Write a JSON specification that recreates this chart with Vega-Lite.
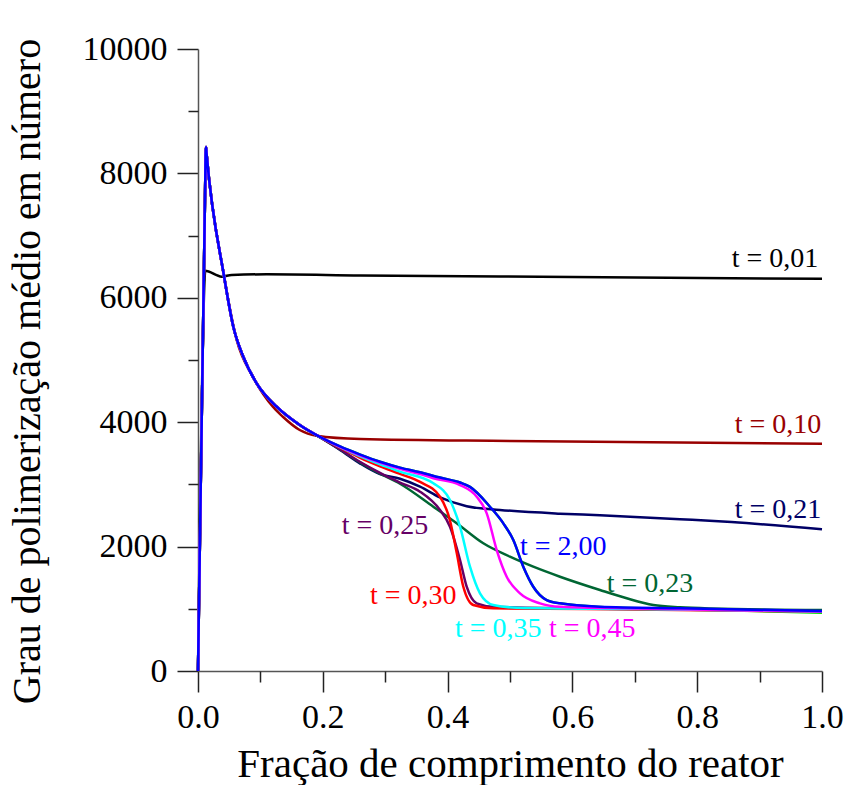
{
  "$schema": "https://vega.github.io/schema/vega-lite/v6.json",
  "width": 624,
  "height": 622,
  "autosize": {"type": "none"},
  "padding": {"left": 198, "top": 49, "right": 25, "bottom": 114},
  "background": "white",
  "config": {
    "view": {"stroke": null},
    "font": "Liberation Serif",
    "text": {"font": "Liberation Serif"},
    "axis": {
      "grid": false,
      "labelFont": "Liberation Serif",
      "titleFont": "Liberation Serif",
      "labelFontSize": 34,
      "titleFontSize": 41,
      "titleFontWeight": "normal",
      "labelColor": "#000",
      "titleColor": "#000",
      "domainColor": "#555",
      "domainWidth": 1.5,
      "tickColor": "#222",
      "tickWidth": 1.5,
      "labelFlush": false,
      "labelOverlap": false
    }
  },
  "datasets": {
    "curves": [
      {"s": "s0", "x": 0, "y": 0}, {"s": "s0", "x": 0.0122, "y": 8280}, {"s": "s0", "x": 0.0128, "y": 8424}, {"s": "s0", "x": 0.0136, "y": 8330}, {"s": "s0", "x": 0.0417, "y": 6350}, {"s": "s0", "x": 0.0566, "y": 5535}, {"s": "s0", "x": 0.0726, "y": 5053}, {"s": "s0", "x": 0.094, "y": 4625}, {"s": "s0", "x": 0.126, "y": 4249}, {"s": "s0", "x": 0.163, "y": 3955}, {"s": "s0", "x": 0.2, "y": 3740}, {"s": "s0", "x": 0.2276, "y": 3610}, {"s": "s0", "x": 0.26, "y": 3480}, {"s": "s0", "x": 0.2917, "y": 3365}, {"s": "s0", "x": 0.3237, "y": 3270}, {"s": "s0", "x": 0.3558, "y": 3195}, {"s": "s0", "x": 0.3878, "y": 3110}, {"s": "s0", "x": 0.4199, "y": 3030}, {"s": "s0", "x": 0.4359, "y": 2960}, {"s": "s0", "x": 0.4679, "y": 2641}, {"s": "s0", "x": 0.4893, "y": 2374}, {"s": "s0", "x": 0.5053, "y": 2106}, {"s": "s0", "x": 0.5213, "y": 1677}, {"s": "s0", "x": 0.5373, "y": 1355}, {"s": "s0", "x": 0.5588, "y": 1141}, {"s": "s0", "x": 0.5801, "y": 1088}, {"s": "s0", "x": 0.6442, "y": 1030}, {"s": "s0", "x": 0.7724, "y": 1000}, {"s": "s0", "x": 1.0, "y": 935},

      {"s": "t = 0,01", "x": 0, "y": 0}, {"s": "t = 0,01", "x": 0.011, "y": 6380}, {"s": "t = 0,01", "x": 0.0115, "y": 6436}, {"s": "t = 0,01", "x": 0.0379, "y": 6340}, {"s": "t = 0,01", "x": 0.0539, "y": 6367}, {"s": "t = 0,01", "x": 0.11, "y": 6378}, {"s": "t = 0,01", "x": 0.26, "y": 6360}, {"s": "t = 0,01", "x": 0.6, "y": 6335}, {"s": "t = 0,01", "x": 1.0, "y": 6305},

      {"s": "t = 0,10", "x": 0, "y": 0}, {"s": "t = 0,10", "x": 0.0122, "y": 8280}, {"s": "t = 0,10", "x": 0.0128, "y": 8424}, {"s": "t = 0,10", "x": 0.0136, "y": 8330}, {"s": "t = 0,10", "x": 0.0417, "y": 6350}, {"s": "t = 0,10", "x": 0.062, "y": 5322}, {"s": "t = 0,10", "x": 0.088, "y": 4731}, {"s": "t = 0,10", "x": 0.12, "y": 4249}, {"s": "t = 0,10", "x": 0.136, "y": 4088}, {"s": "t = 0,10", "x": 0.163, "y": 3875}, {"s": "t = 0,10", "x": 0.19, "y": 3783}, {"s": "t = 0,10", "x": 0.26, "y": 3730}, {"s": "t = 0,10", "x": 0.5, "y": 3698}, {"s": "t = 0,10", "x": 1.0, "y": 3654},

      {"s": "t = 0,21", "x": 0, "y": 0}, {"s": "t = 0,21", "x": 0.0122, "y": 8280}, {"s": "t = 0,21", "x": 0.0128, "y": 8424}, {"s": "t = 0,21", "x": 0.0136, "y": 8330}, {"s": "t = 0,21", "x": 0.0417, "y": 6350}, {"s": "t = 0,21", "x": 0.0566, "y": 5535}, {"s": "t = 0,21", "x": 0.0726, "y": 5053}, {"s": "t = 0,21", "x": 0.094, "y": 4625}, {"s": "t = 0,21", "x": 0.126, "y": 4249}, {"s": "t = 0,21", "x": 0.163, "y": 3955}, {"s": "t = 0,21", "x": 0.2, "y": 3730}, {"s": "t = 0,21", "x": 0.2276, "y": 3555}, {"s": "t = 0,21", "x": 0.26, "y": 3335}, {"s": "t = 0,21", "x": 0.2917, "y": 3165}, {"s": "t = 0,21", "x": 0.3237, "y": 3090}, {"s": "t = 0,21", "x": 0.3558, "y": 2963}, {"s": "t = 0,21", "x": 0.3878, "y": 2790}, {"s": "t = 0,21", "x": 0.4306, "y": 2650}, {"s": "t = 0,21", "x": 0.4839, "y": 2590}, {"s": "t = 0,21", "x": 0.5801, "y": 2530}, {"s": "t = 0,21", "x": 0.6442, "y": 2505}, {"s": "t = 0,21", "x": 0.7724, "y": 2440}, {"s": "t = 0,21", "x": 0.855, "y": 2395}, {"s": "t = 0,21", "x": 1.0, "y": 2278},

      {"s": "t = 0,23", "x": 0, "y": 0}, {"s": "t = 0,23", "x": 0.0122, "y": 8280}, {"s": "t = 0,23", "x": 0.0128, "y": 8424}, {"s": "t = 0,23", "x": 0.0136, "y": 8330}, {"s": "t = 0,23", "x": 0.0417, "y": 6350}, {"s": "t = 0,23", "x": 0.0566, "y": 5535}, {"s": "t = 0,23", "x": 0.0726, "y": 5053}, {"s": "t = 0,23", "x": 0.094, "y": 4625}, {"s": "t = 0,23", "x": 0.126, "y": 4249}, {"s": "t = 0,23", "x": 0.163, "y": 3955}, {"s": "t = 0,23", "x": 0.2, "y": 3732}, {"s": "t = 0,23", "x": 0.2276, "y": 3562}, {"s": "t = 0,23", "x": 0.26, "y": 3350}, {"s": "t = 0,23", "x": 0.2917, "y": 3172}, {"s": "t = 0,23", "x": 0.3237, "y": 3010}, {"s": "t = 0,23", "x": 0.3771, "y": 2641}, {"s": "t = 0,23", "x": 0.4146, "y": 2375}, {"s": "t = 0,23", "x": 0.4572, "y": 2053}, {"s": "t = 0,23", "x": 0.4999, "y": 1838}, {"s": "t = 0,23", "x": 0.5373, "y": 1677}, {"s": "t = 0,23", "x": 0.5801, "y": 1516}, {"s": "t = 0,23", "x": 0.6442, "y": 1302}, {"s": "t = 0,23", "x": 0.687, "y": 1169}, {"s": "t = 0,23", "x": 0.7297, "y": 1061}, {"s": "t = 0,23", "x": 0.7724, "y": 1024}, {"s": "t = 0,23", "x": 0.8216, "y": 1005}, {"s": "t = 0,23", "x": 1.0, "y": 981},

      {"s": "t = 0,25", "x": 0, "y": 0}, {"s": "t = 0,25", "x": 0.0122, "y": 8280}, {"s": "t = 0,25", "x": 0.0128, "y": 8424}, {"s": "t = 0,25", "x": 0.0136, "y": 8330}, {"s": "t = 0,25", "x": 0.0417, "y": 6350}, {"s": "t = 0,25", "x": 0.0566, "y": 5535}, {"s": "t = 0,25", "x": 0.0726, "y": 5053}, {"s": "t = 0,25", "x": 0.094, "y": 4625}, {"s": "t = 0,25", "x": 0.126, "y": 4249}, {"s": "t = 0,25", "x": 0.163, "y": 3955}, {"s": "t = 0,25", "x": 0.2, "y": 3732}, {"s": "t = 0,25", "x": 0.2276, "y": 3565}, {"s": "t = 0,25", "x": 0.26, "y": 3360}, {"s": "t = 0,25", "x": 0.2917, "y": 3185}, {"s": "t = 0,25", "x": 0.3237, "y": 3030}, {"s": "t = 0,25", "x": 0.3558, "y": 2883}, {"s": "t = 0,25", "x": 0.3878, "y": 2588}, {"s": "t = 0,25", "x": 0.4038, "y": 2320}, {"s": "t = 0,25", "x": 0.4199, "y": 1785}, {"s": "t = 0,25", "x": 0.4306, "y": 1355}, {"s": "t = 0,25", "x": 0.4466, "y": 1088}, {"s": "t = 0,25", "x": 0.4732, "y": 1034}, {"s": "t = 0,25", "x": 0.7, "y": 995}, {"s": "t = 0,25", "x": 1.0, "y": 958},

      {"s": "t = 0,30", "x": 0, "y": 0}, {"s": "t = 0,30", "x": 0.0122, "y": 8280}, {"s": "t = 0,30", "x": 0.0128, "y": 8424}, {"s": "t = 0,30", "x": 0.0136, "y": 8330}, {"s": "t = 0,30", "x": 0.0417, "y": 6350}, {"s": "t = 0,30", "x": 0.0566, "y": 5535}, {"s": "t = 0,30", "x": 0.0726, "y": 5053}, {"s": "t = 0,30", "x": 0.094, "y": 4625}, {"s": "t = 0,30", "x": 0.126, "y": 4249}, {"s": "t = 0,30", "x": 0.163, "y": 3955}, {"s": "t = 0,30", "x": 0.2, "y": 3736}, {"s": "t = 0,30", "x": 0.2276, "y": 3590}, {"s": "t = 0,30", "x": 0.26, "y": 3428}, {"s": "t = 0,30", "x": 0.2917, "y": 3292}, {"s": "t = 0,30", "x": 0.3237, "y": 3170}, {"s": "t = 0,30", "x": 0.3558, "y": 3040}, {"s": "t = 0,30", "x": 0.3878, "y": 2802}, {"s": "t = 0,30", "x": 0.4038, "y": 2420}, {"s": "t = 0,30", "x": 0.4146, "y": 1900}, {"s": "t = 0,30", "x": 0.4252, "y": 1355}, {"s": "t = 0,30", "x": 0.4412, "y": 1061}, {"s": "t = 0,30", "x": 0.4732, "y": 1008}, {"s": "t = 0,30", "x": 0.7, "y": 990}, {"s": "t = 0,30", "x": 1.0, "y": 955},

      {"s": "t = 0,35", "x": 0, "y": 0}, {"s": "t = 0,35", "x": 0.0122, "y": 8280}, {"s": "t = 0,35", "x": 0.0128, "y": 8424}, {"s": "t = 0,35", "x": 0.0136, "y": 8330}, {"s": "t = 0,35", "x": 0.0417, "y": 6350}, {"s": "t = 0,35", "x": 0.0566, "y": 5535}, {"s": "t = 0,35", "x": 0.0726, "y": 5053}, {"s": "t = 0,35", "x": 0.094, "y": 4625}, {"s": "t = 0,35", "x": 0.126, "y": 4249}, {"s": "t = 0,35", "x": 0.163, "y": 3955}, {"s": "t = 0,35", "x": 0.2, "y": 3738}, {"s": "t = 0,35", "x": 0.2276, "y": 3598}, {"s": "t = 0,35", "x": 0.26, "y": 3450}, {"s": "t = 0,35", "x": 0.2917, "y": 3322}, {"s": "t = 0,35", "x": 0.3237, "y": 3205}, {"s": "t = 0,35", "x": 0.3771, "y": 3018}, {"s": "t = 0,35", "x": 0.4038, "y": 2749}, {"s": "t = 0,35", "x": 0.4199, "y": 2320}, {"s": "t = 0,35", "x": 0.4359, "y": 1677}, {"s": "t = 0,35", "x": 0.4519, "y": 1249}, {"s": "t = 0,35", "x": 0.4732, "y": 1061}, {"s": "t = 0,35", "x": 0.5107, "y": 1018}, {"s": "t = 0,35", "x": 0.7, "y": 995}, {"s": "t = 0,35", "x": 1.0, "y": 955},

      {"s": "t = 0,45", "x": 0, "y": 0}, {"s": "t = 0,45", "x": 0.0122, "y": 8280}, {"s": "t = 0,45", "x": 0.0128, "y": 8424}, {"s": "t = 0,45", "x": 0.0136, "y": 8330}, {"s": "t = 0,45", "x": 0.0417, "y": 6350}, {"s": "t = 0,45", "x": 0.0566, "y": 5535}, {"s": "t = 0,45", "x": 0.0726, "y": 5053}, {"s": "t = 0,45", "x": 0.094, "y": 4625}, {"s": "t = 0,45", "x": 0.126, "y": 4249}, {"s": "t = 0,45", "x": 0.163, "y": 3955}, {"s": "t = 0,45", "x": 0.2, "y": 3740}, {"s": "t = 0,45", "x": 0.2276, "y": 3605}, {"s": "t = 0,45", "x": 0.26, "y": 3468}, {"s": "t = 0,45", "x": 0.2917, "y": 3350}, {"s": "t = 0,45", "x": 0.3237, "y": 3250}, {"s": "t = 0,45", "x": 0.3558, "y": 3165}, {"s": "t = 0,45", "x": 0.3771, "y": 3100}, {"s": "t = 0,45", "x": 0.4199, "y": 2990}, {"s": "t = 0,45", "x": 0.4466, "y": 2802}, {"s": "t = 0,45", "x": 0.4627, "y": 2535}, {"s": "t = 0,45", "x": 0.4787, "y": 1945}, {"s": "t = 0,45", "x": 0.4947, "y": 1516}, {"s": "t = 0,45", "x": 0.516, "y": 1249}, {"s": "t = 0,45", "x": 0.548, "y": 1088}, {"s": "t = 0,45", "x": 0.58, "y": 1034}, {"s": "t = 0,45", "x": 0.7, "y": 1005}, {"s": "t = 0,45", "x": 1.0, "y": 955},

      {"s": "t = 2,00", "x": 0, "y": 0}, {"s": "t = 2,00", "x": 0.0122, "y": 8280}, {"s": "t = 2,00", "x": 0.0128, "y": 8424}, {"s": "t = 2,00", "x": 0.0136, "y": 8330}, {"s": "t = 2,00", "x": 0.0417, "y": 6350}, {"s": "t = 2,00", "x": 0.0566, "y": 5535}, {"s": "t = 2,00", "x": 0.0726, "y": 5053}, {"s": "t = 2,00", "x": 0.094, "y": 4625}, {"s": "t = 2,00", "x": 0.126, "y": 4249}, {"s": "t = 2,00", "x": 0.163, "y": 3955}, {"s": "t = 2,00", "x": 0.2, "y": 3740}, {"s": "t = 2,00", "x": 0.2276, "y": 3610}, {"s": "t = 2,00", "x": 0.26, "y": 3480}, {"s": "t = 2,00", "x": 0.2917, "y": 3365}, {"s": "t = 2,00", "x": 0.3237, "y": 3270}, {"s": "t = 2,00", "x": 0.3558, "y": 3195}, {"s": "t = 2,00", "x": 0.3878, "y": 3110}, {"s": "t = 2,00", "x": 0.4199, "y": 3030}, {"s": "t = 2,00", "x": 0.4359, "y": 2960}, {"s": "t = 2,00", "x": 0.4679, "y": 2641}, {"s": "t = 2,00", "x": 0.4893, "y": 2374}, {"s": "t = 2,00", "x": 0.5053, "y": 2106}, {"s": "t = 2,00", "x": 0.5213, "y": 1677}, {"s": "t = 2,00", "x": 0.5373, "y": 1355}, {"s": "t = 2,00", "x": 0.5588, "y": 1141}, {"s": "t = 2,00", "x": 0.5801, "y": 1088}, {"s": "t = 2,00", "x": 0.6442, "y": 1034}, {"s": "t = 2,00", "x": 0.7724, "y": 1008}, {"s": "t = 2,00", "x": 1.0, "y": 965}
    ],
    "labelsRight": [
      {"s": "t = 0,01", "x": 0.994, "y": 6500},
      {"s": "t = 0,10", "x": 0.999, "y": 3826},
      {"s": "t = 0,21", "x": 0.999, "y": 2455}
    ],
    "labelsLeft": [
      {"s": "t = 2,00", "x": 0.516, "y": 1865},
      {"s": "t = 0,23", "x": 0.655, "y": 1275},
      {"s": "t = 0,25", "x": 0.2303, "y": 2203},
      {"s": "t = 0,30", "x": 0.2756, "y": 1077},
      {"s": "t = 0,35", "x": 0.4119, "y": 551},
      {"s": "t = 0,45", "x": 0.5625, "y": 551}
    ]
  },
  "resolve": {"axis": {"x": "independent", "y": "independent"}},
  "layer": [
    {
      "data": {"name": "curves"},
      "mark": {"type": "line", "strokeWidth": 2.5, "interpolate": "monotone"},
      "encoding": {
        "x": {
          "field": "x", "type": "quantitative",
          "scale": {"domain": [0, 1], "nice": false, "zero": false},
          "axis": {
            "orient": "bottom",
            "values": [0, 0.2, 0.4, 0.6, 0.8, 1.0],
            "format": ".1f",
            "tickSize": 21,
            "labelPadding": 8,
            "labelFont": "Liberation Serif",
            "titleFont": "Liberation Serif",
            "labelFontSize": 34,
            "titleFontSize": 41,
            "title": "Fração de comprimento do reator",
            "titlePadding": 10
          }
        },
        "y": {
          "field": "y", "type": "quantitative",
          "scale": {"domain": [0, 10000], "nice": false},
          "axis": {
            "orient": "left",
            "values": [0, 2000, 4000, 6000, 8000, 10000],
            "format": "d",
            "tickSize": 21,
            "labelPadding": 10,
            "labelFont": "Liberation Serif",
            "titleFont": "Liberation Serif",
            "labelFontSize": 34,
            "titleFontSize": 40,
            "title": "Grau de polimerização médio em número",
            "titlePadding": 35,
            "titleY": 322
          }
        },
        "color": {
          "field": "s", "type": "nominal", "legend": null,
          "scale": {
            "domain": ["s0", "t = 0,01", "t = 0,10", "t = 0,21", "t = 0,23", "t = 0,25", "t = 0,30", "t = 0,35", "t = 0,45", "t = 2,00"],
            "range": ["#00e000", "#000000", "#990000", "#000066", "#006633", "#660066", "#ff0000", "#00ffff", "#ff00ff", "#0000ff"]
          }
        }
      }
    },
    {
      "data": {"name": "labelsRight"},
      "mark": {"type": "text", "align": "right", "baseline": "alphabetic", "fontSize": 28, "font": "Liberation Serif"},
      "encoding": {
        "x": {
          "field": "x", "type": "quantitative",
          "axis": {
            "orient": "bottom",
            "values": [0.1, 0.3, 0.5, 0.7, 0.9],
            "tickSize": 11,
            "labels": false,
            "domain": false,
            "title": null
          }
        },
        "y": {
          "field": "y", "type": "quantitative",
          "axis": {
            "orient": "left",
            "values": [1000, 3000, 5000, 7000, 9000],
            "tickSize": 10,
            "labels": false,
            "domain": false,
            "title": null
          }
        },
        "text": {"field": "s", "type": "nominal"},
        "color": {"field": "s", "type": "nominal", "legend": null}
      }
    },
    {
      "data": {"name": "labelsLeft"},
      "mark": {"type": "text", "align": "left", "baseline": "alphabetic", "fontSize": 28, "font": "Liberation Serif"},
      "encoding": {
        "x": {"field": "x", "type": "quantitative", "axis": null},
        "y": {"field": "y", "type": "quantitative", "axis": null},
        "text": {"field": "s", "type": "nominal"},
        "color": {"field": "s", "type": "nominal", "legend": null}
      }
    }
  ]
}
